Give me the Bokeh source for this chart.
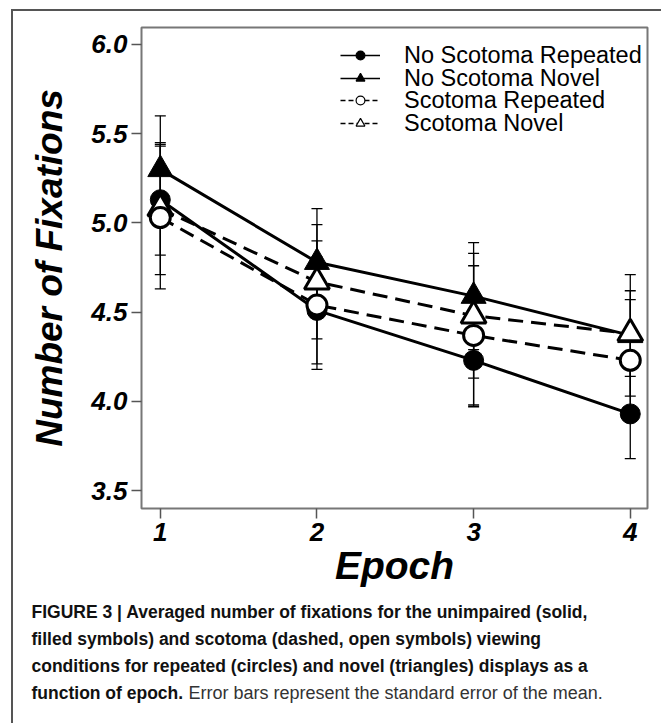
from bokeh.plotting import figure
from bokeh.models import (ColumnDataSource, Whisker, TeeHead, Legend, LegendItem,
                          FixedTicker, Range1d)
from bokeh.core.properties import value
from bokeh.embed import file_html
from bokeh.resources import INLINE

# ---- data ----
epochs = [1, 2, 3, 4]
x_tick_labels = ["1", "2", "3", "4"]
y_ticks = [3.5, 4.0, 4.5, 5.0, 5.5, 6.0]
y_tick_labels = ["3.5", "4.0", "4.5", "5.0", "5.5", "6.0"]

series_names = ["No Scotoma Repeated", "No Scotoma Novel", "Scotoma Repeated", "Scotoma Novel"]
no_scotoma_repeated = [5.13, 4.51, 4.23, 3.93]
no_scotoma_novel = [5.30, 4.78, 4.59, 4.37]
scotoma_repeated = [5.03, 4.54, 4.37, 4.23]
scotoma_novel = [5.08, 4.67, 4.48, 4.38]

se_no_scotoma_repeated = [0.31, 0.30, 0.26, 0.25]
se_no_scotoma_novel = [0.30, 0.30, 0.30, 0.34]
se_scotoma_repeated = [0.40, 0.36, 0.39, 0.34]
se_scotoma_novel = [0.37, 0.32, 0.35, 0.24]

caption_bold = [
    "FIGURE 3 | Averaged number of fixations for the unimpaired (solid,",
    "filled symbols) and scotoma (dashed, open symbols) viewing",
    "conditions for repeated (circles) and novel (triangles) displays as a",
    "function of epoch.",
]
caption_regular = "Error bars represent the standard error of the mean."

FONT = "Liberation Sans"
BOX = "2px solid #555555"

# ---- main chart ----
P_W, P_H = 650, 588
p = figure(width=P_W, height=P_H, x_range=(0.88, 4.11), y_range=(3.40, 6.095),
           output_backend="svg", toolbar_location=None,
           min_border_left=128, min_border_right=16, min_border_top=16, min_border_bottom=91,
           styles={"margin-left": "11px", "margin-top": "9px",
                   "border-left": BOX, "border-top": BOX})
p.xgrid.visible = False
p.ygrid.visible = False
p.outline_line_color = "#777777"
p.outline_line_width = 2

for ax in (p.xaxis[0], p.yaxis[0]):
    ax.axis_line_color = None
    ax.major_tick_line_color = "#555555"
    ax.major_tick_line_width = 1.5
    ax.major_tick_out = 10
    ax.major_tick_in = 0
    ax.minor_tick_line_color = None
    ax.major_label_text_font = FONT
    ax.major_label_text_font_style = "bold italic"
    ax.major_label_text_font_size = "26px"
    ax.major_label_text_color = "black"
    ax.axis_label_text_font = FONT
    ax.axis_label_text_font_style = "bold italic"
    ax.axis_label_text_color = "black"

p.xaxis.axis_label_text_font_size = "39px"
p.yaxis.axis_label_text_font_size = "37px"
p.xaxis.ticker = FixedTicker(ticks=epochs)
p.xaxis.major_label_overrides = {e: t for e, t in zip(epochs, x_tick_labels)}
p.yaxis.ticker = FixedTicker(ticks=y_ticks)
p.yaxis.major_label_overrides = {v: t for v, t in zip(y_ticks, y_tick_labels)}
p.xaxis.axis_label = "Epoch"
p.yaxis.axis_label = "Number of Fixations"
p.xaxis.major_label_standoff = 4
p.yaxis.major_label_standoff = 4
p.xaxis.axis_label_standoff = 0
p.yaxis.axis_label_standoff = 18

series = [
    (no_scotoma_repeated, se_no_scotoma_repeated, "solid", "circle", "black"),
    (no_scotoma_novel, se_no_scotoma_novel, "solid", "triangle", "black"),
    (scotoma_repeated, se_scotoma_repeated, "15 8", "circle", "white"),
    (scotoma_novel, se_scotoma_novel, "15 8", "triangle", "white"),
]

sources = []
for vals, se, dash, marker, fill in series:
    src = ColumnDataSource(dict(x=epochs, y=vals,
                                upper=[v + s for v, s in zip(vals, se)],
                                lower=[v - s for v, s in zip(vals, se)]))
    sources.append(src)
    w = Whisker(source=src, base="x", upper="upper", lower="lower",
                line_color="black", line_width=1.3, level="underlay",
                upper_head=TeeHead(size=11, line_color="black", line_width=1.3),
                lower_head=TeeHead(size=11, line_color="black", line_width=1.3))
    p.add_layout(w)

for (vals, se, dash, marker, fill), src in zip(series, sources):
    p.line("x", "y", source=src, line_color="black", line_width=3, line_dash=dash)

for i in [0, 1, 3, 2]:
    vals, se, dash, marker, fill = series[i]
    size = 20 if marker == "circle" else 25
    p.scatter("x", "y", source=sources[i], marker=marker, size=size,
              fill_color=fill, line_color="black", line_width=3 if fill == "white" else 1)

# legend: one row per Legend so that the rows can sit closer than the text height
legend_rows_y = [439.5, 416.5, 394.5, 371.5]  # row positions (px above frame bottom)
for name, (vals, se, dash, marker, fill), ly in zip(series_names, series, legend_rows_y):
    ldash = "solid" if dash == "solid" else "5 3"
    lr = p.line([0, 0.1], [0, 0.1], line_color="black", line_width=1.6, line_dash=ldash)
    sr = p.scatter([0], [0], marker=marker, fill_color=fill, line_color="black", line_width=1.2)
    lg = Legend(items=[LegendItem(label=name, renderers=[lr, sr])], location=(199, ly),
                border_line_color=None, background_fill_alpha=0, padding=0, margin=0,
                glyph_width=40, glyph_height=22, label_height=22,
                label_standoff=24, label_text_font=FONT, label_text_font_size="23.5px",
                label_text_color="black")
    p.add_layout(lg, "center")

# ---- caption (separate root below the chart) ----
C_W, C_H = 650, 126
c = figure(width=C_W, height=C_H, x_range=Range1d(0, C_W), y_range=Range1d(C_H, 0),
           output_backend="svg", toolbar_location=None,
           x_axis_type=None, y_axis_type=None, min_border=0,
           styles={"margin-left": "11px", "border-left": BOX})
c.xgrid.visible = False
c.ygrid.visible = False
c.outline_line_color = None

cap_x = 18
cap_y0 = 14
cap_dy = 27
c.text(x=[cap_x] * 4, y=[cap_y0 + i * cap_dy for i in range(4)], text=caption_bold,
       text_font=value(FONT), text_font_style="bold", text_font_size="17.5px",
       text_color="#111111", text_baseline="alphabetic", text_align="left")
c.text(x=[cap_x + 157], y=[cap_y0 + 3 * cap_dy], text=[caption_regular],
       text_font=value(FONT), text_font_style="normal", text_font_size="18px",
       text_color="#333333", text_baseline="alphabetic", text_align="left")

open("out.html", "w").write(file_html([p, c], INLINE))
